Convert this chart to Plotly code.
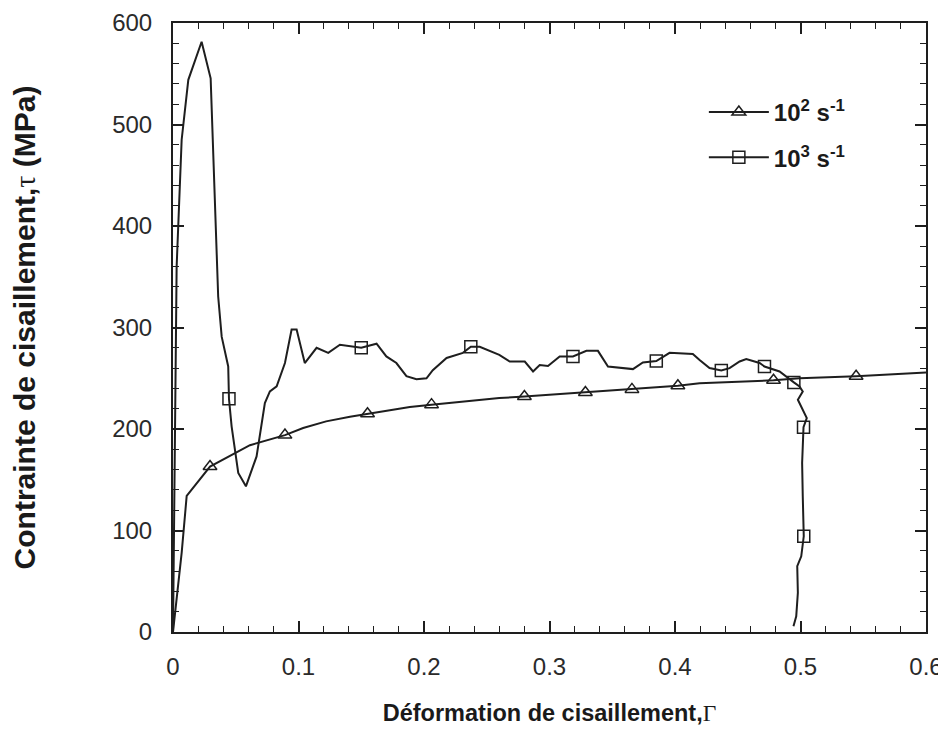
import plotly.graph_objects as go

# Series 1 : 10^2 s^-1 (triangles)
g1_x = [0, 0.003, 0.0069, 0.0109, 0.0295, 0.0613, 0.0892, 0.1037, 0.122, 0.141, 0.155,
        0.1887, 0.206, 0.26, 0.28, 0.3286, 0.3657, 0.4023, 0.4196, 0.4785, 0.4992, 0.5443, 0.6]
g1_y = [0, 32, 78, 134, 163, 184, 194, 201, 207.5, 212, 215,
        221.6, 224, 230.5, 232, 236, 239, 242.6, 245, 248, 250, 252, 255.7]
m1_x = [0.0295, 0.0892, 0.155, 0.206, 0.28, 0.3286, 0.3657, 0.4023, 0.4785, 0.5443]
m1_y = [163, 194, 215, 224, 232, 236, 239, 242.6, 248, 252]

# Series 2 : 10^3 s^-1 (squares)
g2_x = [0, 0.0012, 0.0029, 0.0069, 0.0122, 0.0228, 0.030, 0.036, 0.0388, 0.044, 0.0446,
        0.0467, 0.052, 0.0581, 0.0666, 0.0732, 0.0772, 0.0826, 0.0892, 0.0945, 0.0985,
        0.105, 0.1144, 0.1237, 0.133, 0.150, 0.1622, 0.170, 0.178, 0.186, 0.194, 0.202,
        0.207, 0.218, 0.231, 0.2373, 0.2444, 0.260, 0.2683, 0.2803, 0.2869, 0.2922,
        0.2988, 0.3081, 0.3187, 0.3294, 0.3386, 0.3466, 0.3665, 0.3744, 0.3851, 0.3957,
        0.4142, 0.4196, 0.4275, 0.4369, 0.4435, 0.4515, 0.4568, 0.4674, 0.4713, 0.4833,
        0.4899, 0.4947, 0.4992, 0.5018, 0.4979, 0.5018, 0.505, 0.5024, 0.5013, 0.5018,
        0.5026, 0.5006, 0.4974, 0.4979, 0.4966, 0.4944]
g2_y = [0, 150, 360, 485, 544, 581.5, 545.5, 330.5, 291, 261.6, 229.8,
        202.6, 156.7, 143.5, 173, 225.6, 237, 242, 265, 298, 298,
        265, 280, 275, 283, 280, 284, 271.5, 265, 252, 249, 250,
        258, 270, 275, 281, 281, 273, 266.5, 266.5, 256.7, 263,
        262, 271.5, 271.5, 277, 277, 261.6, 259, 265.6, 267, 275,
        274, 268, 260, 257.7, 260, 266.5, 269, 265, 261.6, 256.7,
        250, 245.9, 242, 237, 228.8, 219, 210.8, 201.8, 166.5, 133.7,
        94.3, 74.6, 64.8, 38.6, 15.5, 5.7]
m2_x = [0.0446, 0.150, 0.2373, 0.3187, 0.3851, 0.4369, 0.4713, 0.4947, 0.5024, 0.5026]
m2_y = [229.8, 280, 281, 271.5, 267, 257.7, 261.6, 245.9, 201.8, 94.3]

series_names = ["10<sup>2</sup> s<sup>-1</sup>", "10<sup>3</sup> s<sup>-1</sup>"]
x_ticks = [0, 0.1, 0.2, 0.3, 0.4, 0.5, 0.6]
x_ticktext = ["0", "0.1", "0.2", "0.3", "0.4", "0.5", "0.6"]
y_ticks = [0, 100, 200, 300, 400, 500, 600]
x_range = [0, 0.6]
y_range = [0, 600]

INK = "#1e1e1e"
LW = 2
SANS = "Liberation Sans, Arial, sans-serif"
SERIF_SPAN = '<span style="font-family:Liberation Serif, Times New Roman, serif;font-weight:normal">{}</span>'

fig = go.Figure()
fig.add_trace(go.Scatter(x=g1_x, y=g1_y, mode="lines", line=dict(color=INK, width=LW),
                         showlegend=False, hoverinfo="skip"))
fig.add_trace(go.Scatter(x=g2_x, y=g2_y, mode="lines", line=dict(color=INK, width=LW),
                         showlegend=False, hoverinfo="skip"))
fig.add_trace(go.Scatter(x=m1_x, y=m1_y, mode="markers",
                         marker=dict(symbol="triangle-up-open", size=12, color=INK,
                                     line=dict(width=1.5, color=INK)),
                         showlegend=False))
fig.add_trace(go.Scatter(x=m2_x, y=m2_y, mode="markers",
                         marker=dict(symbol="square-open", size=12, color=INK,
                                     line=dict(width=1.5, color=INK)),
                         showlegend=False))
# legend entries (on the mirror axes so those get drawn too)
fig.add_trace(go.Scatter(x=[None], y=[None], mode="lines+markers", name=series_names[0],
                         legendgroup="a", xaxis="x2", yaxis="y2",
                         line=dict(color=INK, width=LW),
                         marker=dict(symbol="triangle-up-open", size=12, color=INK,
                                     line=dict(width=1.5, color=INK))))
fig.add_trace(go.Scatter(x=[None], y=[None], mode="lines+markers", name=series_names[1],
                         legendgroup="b", xaxis="x2", yaxis="y2",
                         line=dict(color=INK, width=LW),
                         marker=dict(symbol="square-open", size=12, color=INK,
                                     line=dict(width=1.5, color=INK))))

tick_common = dict(
    showgrid=False, zeroline=False, ticks="inside", ticklen=11, tickwidth=1.5,
    tickcolor=INK, automargin=False,
)
tickfont = dict(family=SANS, size=24, color="#2a2a2a")

fig.update_layout(
    xaxis=dict(range=x_range, tickvals=x_ticks, ticktext=x_ticktext,
               showline=True, linecolor=INK, linewidth=2, tickfont=tickfont,
               minor=dict(dtick=0.02, ticks="inside", ticklen=6, tickwidth=1.2, tickcolor=INK),
               ticklabelstandoff=12,
               title=dict(text="Déformation de cisaillement," + SERIF_SPAN.format("Γ"),
                          standoff=26,
                          font=dict(family=SANS, size=23.5, color="#1a1a1a", weight="bold")),
               **tick_common),
    yaxis=dict(range=y_range, tickvals=y_ticks,
               showline=True, linecolor=INK, linewidth=2, tickfont=tickfont,
               minor=dict(dtick=20, ticks="inside", ticklen=6, tickwidth=1.2, tickcolor=INK),
               ticklabelstandoff=14,
               title=dict(text="Contrainte de cisaillement," + SERIF_SPAN.format("τ") + " (MPa)",
                          standoff=74,
                          font=dict(family=SANS, size=30, color="#1a1a1a", weight="bold")),
               **tick_common),
    xaxis2=dict(range=x_range, overlaying="x", side="top", tickvals=x_ticks,
                showticklabels=False, showline=True, linecolor=INK, linewidth=2,
                minor=dict(dtick=0.02, ticks="inside", ticklen=6, tickwidth=1.2, tickcolor=INK),
                **tick_common),
    yaxis2=dict(range=y_range, overlaying="y", side="right", tickvals=y_ticks,
                showticklabels=False, showline=True, linecolor=INK, linewidth=2,
                minor=dict(dtick=20, ticks="inside", ticklen=6, tickwidth=1.2, tickcolor=INK),
                **tick_common),
    width=946, height=739,
    margin=dict(l=165, r=27.5, t=15, b=114.5, pad=0),
    paper_bgcolor="white", plot_bgcolor="white",
    font=dict(family=SANS),
    legend=dict(x=0.705, y=0.89, xanchor="left", yanchor="top",
                bgcolor="rgba(0,0,0,0)", borderwidth=0,
                tracegroupgap=11, itemwidth=60,
                font=dict(family=SANS, size=24, color="#1a1a1a", weight="bold")),
)

fig.write_html("out.html")
